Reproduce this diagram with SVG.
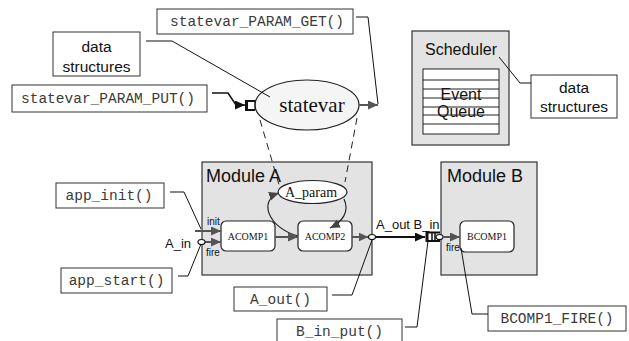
<svg xmlns="http://www.w3.org/2000/svg" width="629" height="341" viewBox="0 0 629 341">
  <style>
    .box { fill: #ffffff; stroke: #333333; stroke-width: 1; }
    .module { fill: #e3e3e3; stroke: #333333; stroke-width: 1.2; }
    .comp { fill: #ffffff; stroke: #222222; stroke-width: 1.2; }
    .mono { font-family: "Liberation Mono", "Courier New", monospace; font-size: 14.5px; fill: #3a3a3a; text-anchor: middle; }
    .sans { font-family: "Liberation Sans", Arial, sans-serif; fill: #111111; }
    .serif { font-family: "Liberation Serif", "Times New Roman", serif; fill: #111111; }
    .lead { fill: none; stroke: #111111; stroke-width: 1; }
    .flow { fill: none; stroke: #555555; stroke-width: 2; marker-end: url(#ga); }
    .wire { fill: none; stroke: #111111; stroke-width: 2; marker-end: url(#ba); }
    .dash { fill: none; stroke: #222222; stroke-width: 1; stroke-dasharray: 7 5; }
    .curve { fill: none; stroke: #222222; stroke-width: 1.2; }
    .port { fill: #ffffff; stroke: #111111; stroke-width: 1.2; }
  </style>
  <defs>
    <marker id="ga" markerUnits="userSpaceOnUse" markerWidth="12" markerHeight="10" refX="10" refY="4.5" orient="auto">
      <path d="M0,0 L10,4.5 L0,9 Z" fill="#555555"/>
    </marker>
    <marker id="ba" markerUnits="userSpaceOnUse" markerWidth="12" markerHeight="10" refX="10" refY="4.5" orient="auto">
      <path d="M0,0 L10,4.5 L0,9 Z" fill="#111111"/>
    </marker>
    <marker id="ca" markerUnits="userSpaceOnUse" markerWidth="12" markerHeight="10" refX="10" refY="4.5" orient="auto">
      <path d="M0,0 L10,4.5 L0,9 Z" fill="#444444"/>
    </marker>
  </defs>

  <!-- call boxes -->
  <g id="get">
    <rect class="box" x="157" y="9" width="196" height="25"/>
    <text class="mono" x="257" y="26">statevar_PARAM_GET()</text>
  </g>
  <g id="ds-left">
    <rect class="box" x="53" y="32" width="87" height="44"/>
    <text class="sans" x="96.5" y="52" font-size="15.5" text-anchor="middle">data</text>
    <text class="sans" x="96.5" y="72" font-size="15.5" text-anchor="middle">structures</text>
  </g>
  <g id="put">
    <rect class="box" x="12" y="85" width="195" height="27"/>
    <text class="mono" x="108" y="103">statevar_PARAM_PUT()</text>
  </g>
  <g id="app-init">
    <rect class="box" x="56" y="183" width="108" height="25"/>
    <text class="mono" x="109" y="200">app_init()</text>
  </g>
  <g id="app-start">
    <rect class="box" x="61" y="268" width="111" height="25"/>
    <text class="mono" x="116.5" y="285">app_start()</text>
  </g>
  <g id="a-out">
    <rect class="box" x="234" y="287" width="93" height="24"/>
    <text class="mono" x="280.5" y="304">A_out()</text>
  </g>
  <g id="b-in-put">
    <rect class="box" x="277" y="319" width="125" height="30"/>
    <text class="mono" x="339.5" y="336">B_in_put()</text>
  </g>
  <g id="bcomp1-fire">
    <rect class="box" x="488" y="306" width="138" height="25"/>
    <text class="mono" x="557" y="323">BCOMP1_FIRE()</text>
  </g>
  <g id="ds-right">
    <rect class="box" x="531" y="75" width="86" height="43"/>
    <text class="sans" x="574" y="93" font-size="15.5" text-anchor="middle">data</text>
    <text class="sans" x="574" y="112" font-size="15.5" text-anchor="middle">structures</text>
  </g>

  <!-- scheduler with event queue -->
  <g id="scheduler">
    <rect class="module" x="412" y="31" width="97" height="114"/>
    <text class="sans" x="425" y="55" font-size="16">Scheduler</text>
    <rect x="423" y="69" width="76" height="65" fill="#ffffff" stroke="#222222" stroke-width="1"/>
    <text class="sans" x="461" y="100" font-size="16" text-anchor="middle">Event</text>
    <text class="sans" x="461" y="117" font-size="16" text-anchor="middle">Queue</text>
    <g stroke="#222222" stroke-width="1">
      <line x1="423" y1="80" x2="499" y2="80"/>
      <line x1="423" y1="89" x2="499" y2="89"/>
      <line x1="423" y1="98" x2="499" y2="98"/>
      <line x1="423" y1="107" x2="499" y2="107"/>
      <line x1="423" y1="115" x2="499" y2="115"/>
      <line x1="423" y1="124" x2="499" y2="124"/>
    </g>
  </g>

  <!-- modules -->
  <g id="module-a">
    <rect class="module" x="202" y="162" width="170" height="113"/>
    <text class="sans" x="206" y="182" font-size="18">Module A</text>
  </g>
  <g id="module-b">
    <rect class="module" x="441" y="162" width="96" height="113"/>
    <text class="sans" x="447" y="182" font-size="18">Module B</text>
  </g>

  <!-- state variable -->
  <g id="statevar">
    <ellipse cx="307" cy="105" rx="52" ry="25" fill="#f5f5f5" stroke="#222222" stroke-width="1.2"/>
    <text class="serif" x="312" y="112" font-size="21" text-anchor="middle">statevar</text>
  </g>
  <g id="a-param">
    <ellipse cx="312.5" cy="192" rx="34.5" ry="11.5" fill="#ffffff" stroke="#222222" stroke-width="1.2"/>
    <text class="serif" x="311" y="197" font-size="14" text-anchor="middle">A_param</text>
  </g>

  <!-- components -->
  <g id="acomp1">
    <rect class="comp" x="221" y="221" width="54" height="30" rx="5"/>
    <text class="serif" x="248" y="240" font-size="10" text-anchor="middle">ACOMP1</text>
  </g>
  <g id="acomp2">
    <rect class="comp" x="298" y="221" width="54" height="30" rx="5"/>
    <text class="serif" x="325" y="240" font-size="10" text-anchor="middle">ACOMP2</text>
  </g>
  <g id="bcomp1">
    <rect class="comp" x="460" y="221" width="54" height="31" rx="5"/>
    <text class="serif" x="487" y="240" font-size="10" text-anchor="middle">BCOMP1</text>
  </g>

  <!-- port labels -->
  <g id="labels">
    <text class="sans" x="207" y="225" font-size="10">init</text>
    <text class="sans" x="206" y="256" font-size="10">fire</text>
    <text class="sans" x="165" y="248" font-size="13">A_in</text>
    <text class="sans" x="376" y="229" font-size="13">A_out B_in</text>
    <text class="sans" x="446" y="251" font-size="10">fire</text>
  </g>

  <!-- connectors -->
  <g id="connectors">
    <!-- leaders -->
    <path class="lead" d="M146,41 L172,41 L270,97"/>
    <path class="lead" d="M356,17 L368,17 L378,104"/>
    <path class="lead" d="M499,57 L520,83 L531,83"/>
    <path class="lead" d="M170,192 L184,192 L201,229"/>
    <path class="lead" d="M178,276 L188,276 L201,244"/>
    <path class="lead" d="M332,295 L352,295 L372,240"/>
    <path class="lead" d="M405,327 L417,327 L428,241"/>
    <path class="lead" d="M488,314 L472,314 L461,248"/>

    <!-- statevar bindings -->
    <path class="dash" d="M260,120 L280,188"/>
    <path class="dash" d="M357,118 L345,182"/>
    <path class="curve" d="M298,236 C268,228 258,200 279,193" marker-end="url(#ca)"/>
    <path class="curve" d="M344,199 C350,212 342,222 330,228" marker-end="url(#ca)"/>

    <!-- put into statevar -->
    <path class="wire" style="stroke-width:1.6" d="M212,93 L228,93 L236,105 L245,105"/>
    <path d="M246,101 L255,101 M246,110 L255,110" stroke="#111111" stroke-width="2"/>
    <line x1="246.5" y1="100" x2="246.5" y2="111" stroke="#111111" stroke-width="3"/>
    <line x1="255" y1="101" x2="255" y2="110" stroke="#111111" stroke-width="1"/>
    <path class="flow" d="M359,105 L378,105"/>

    <!-- module A internals -->
    <path class="flow" d="M195,231 L221,231"/>
    <path class="flow" d="M205,242 L221,242"/>
    <ellipse class="port" cx="201.5" cy="242" rx="3.5" ry="2.5"/>
    <path class="flow" d="M275,237 L298,237"/>
    <path class="flow" d="M352,237 L368.5,237"/>
    <ellipse class="port" cx="372" cy="237" rx="3.5" ry="2.5"/>

    <!-- A_out to B_in -->
    <path class="wire" d="M375.5,237 L425,237"/>
    <path d="M426,232.5 L440,232.5 M426,241 L440,241" stroke="#111111" stroke-width="2"/>
    <line x1="427" y1="231.5" x2="427" y2="242" stroke="#111111" stroke-width="3"/>
    <line x1="432" y1="232.5" x2="432" y2="241" stroke="#111111" stroke-width="1.5"/>
    <line x1="435" y1="232.5" x2="435" y2="241" stroke="#111111" stroke-width="1.5"/>
    <ellipse class="port" cx="439.5" cy="237" rx="3.5" ry="2.5"/>
    <path class="flow" d="M443,237 L460,237"/>
  </g>
</svg>
